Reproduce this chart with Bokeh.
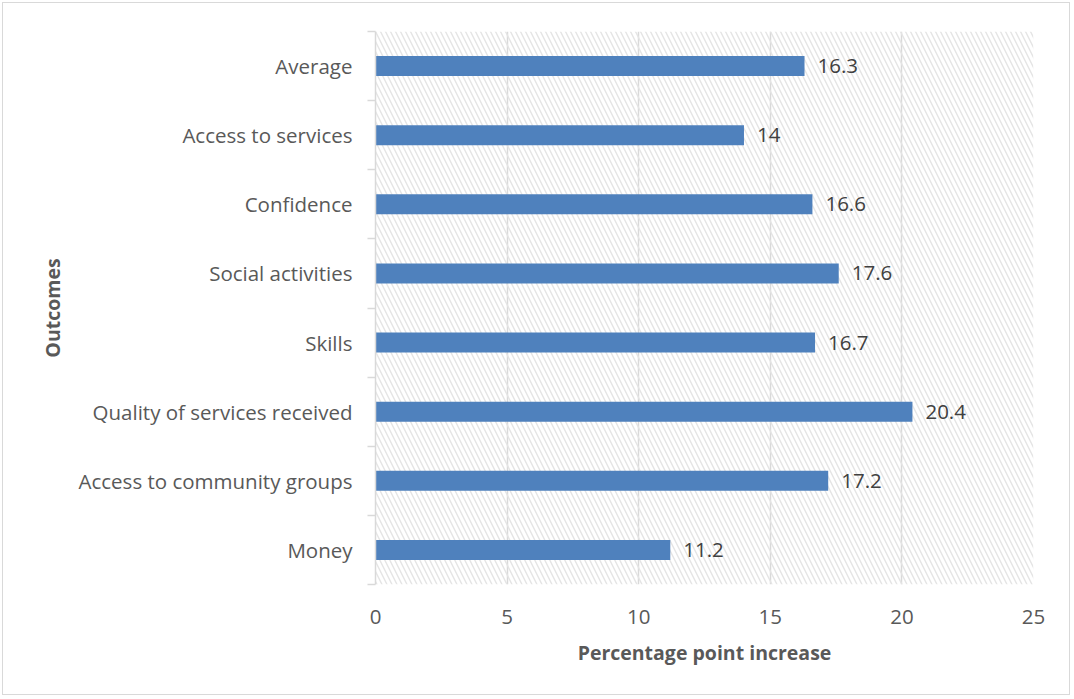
from bokeh.plotting import figure
from bokeh.models import ColumnDataSource, FixedTicker, LabelSet, Range1d
from bokeh.core.properties import value
from bokeh.embed import file_html
from bokeh.resources import INLINE

categories = ["Money", "Access to community groups", "Quality of services received",
              "Skills", "Social activities", "Confidence", "Access to services", "Average"]
values = [11.2, 17.2, 20.4, 16.7, 17.6, 16.6, 14, 16.3]
x_ticks = [0, 5, 10, 15, 20, 25]

FONT = "Open Sans"
FS = "20.5px"
TFS = "19.5px"
GRID = "#d9d9d9"
TXT = "#595959"

ypos = [i + 0.5 for i in range(len(categories))]
labels = [f"{v:g}" for v in values]
src = ColumnDataSource(dict(y=ypos, v=values, lab=labels, cat=categories))

p = figure(width=1068, height=693, output_backend="svg", toolbar_location=None,
           x_range=Range1d(0, 25), y_range=Range1d(0, len(categories)),
           min_border_left=372, min_border_right=38, min_border_top=28, min_border_bottom=112)
p.styles = {"margin": "2px", "border": "1px solid #d9d9d9"}
p.outline_line_color = None
p.background_fill_color = "white"

# hatched plot area
p.quad(left=[0], right=[25], bottom=[0], top=[len(categories)], fill_alpha=0, line_color=None,
       hatch_pattern="\\", hatch_color="#e4e4e4", hatch_scale=10, hatch_weight=1.4)

p.hbar(y="y", right="v", left=0, height=0.29, source=src, fill_color="#4f81bd", line_color=None)

p.add_layout(LabelSet(x="v", y="y", text="lab", source=src, x_offset=13, y_offset=0,
                      text_baseline="middle", text_font=value(FONT), text_font_size=value(FS),
                      text_color="#404040"))

# x axis
p.xaxis.ticker = FixedTicker(ticks=x_ticks)
p.xaxis.axis_line_color = None
p.xaxis.major_tick_line_color = None
p.xaxis.minor_tick_line_color = None
p.xaxis.major_label_standoff = 19
p.xaxis.major_label_text_font = FONT
p.xaxis.major_label_text_font_size = FS
p.xaxis.major_label_text_color = TXT
p.xaxis.axis_label = "Percentage point increase"
p.xaxis.axis_label_text_font = FONT
p.xaxis.axis_label_text_font_size = TFS
p.xaxis.axis_label_text_font_style = "bold"
p.xaxis.axis_label_text_color = TXT
p.xaxis.axis_label_standoff = 12

# y axis: labels at centers, ticks at boundaries (minor)
p.yaxis.ticker = FixedTicker(ticks=ypos, minor_ticks=list(range(len(categories) + 1)))
p.yaxis.major_label_overrides = {y: c for y, c in zip(ypos, categories)}
p.yaxis.axis_line_color = GRID
p.yaxis.axis_line_width = 1.5
p.yaxis.major_tick_line_color = None
p.yaxis.minor_tick_line_color = GRID
p.yaxis.minor_tick_line_width = 1.5
p.yaxis.minor_tick_out = 8
p.yaxis.minor_tick_in = 0
p.yaxis.major_label_standoff = 15
p.yaxis.major_label_text_font = FONT
p.yaxis.major_label_text_font_size = FS
p.yaxis.major_label_text_color = TXT
p.yaxis.axis_label = "Outcomes"
p.yaxis.axis_label_text_font = FONT
p.yaxis.axis_label_text_font_size = TFS
p.yaxis.axis_label_text_font_style = "bold"
p.yaxis.axis_label_text_color = TXT
p.yaxis.axis_label_standoff = 10

p.xgrid.ticker = FixedTicker(ticks=x_ticks)
p.xgrid.grid_line_color = GRID
p.xgrid.grid_line_width = 1.5
p.ygrid.grid_line_color = None

open("out.html", "w").write(file_html(p, INLINE))
